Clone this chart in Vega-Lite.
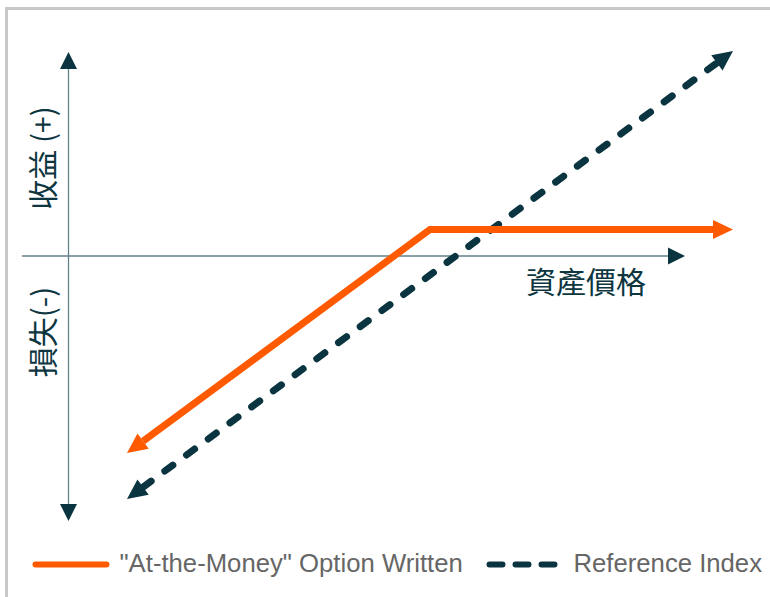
{
  "$schema": "https://vega.github.io/schema/vega-lite/v6.json",
  "width": 766.5,
  "height": 591.5,
  "autosize": {"type": "none"},
  "padding": {"left": 6.5, "top": 8.5, "right": -3, "bottom": -3},
  "background": "white",
  "config": {
    "view": {"stroke": "#c8c8c8", "strokeWidth": 3},
    "axis": {"disable": true}
  },
  "data": {
    "values": [
      {"series": "\"At-the-Money\" Option Written", "pt": 1, "price": 74.6, "payoff": -185.1},
      {"series": "\"At-the-Money\" Option Written", "pt": 2, "price": 361.5, "payoff": 26.5},
      {"series": "\"At-the-Money\" Option Written", "pt": 3, "price": 644.5, "payoff": 26.5},
      {"series": "Reference Index", "pt": 1, "price": 74.6, "payoff": -231.1},
      {"series": "Reference Index", "pt": 2, "price": 648.4, "payoff": 193.1}
    ]
  },
  "layer": [
    {
      "data": {"values": [{}]},
      "mark": {"type": "rule", "color": "#62818a", "strokeWidth": 1.3},
      "encoding": {
        "x": {"datum": 0, "type": "quantitative", "scale": {"domain": [-62, 704.5], "nice": false, "zero": false}, "axis": null},
        "y": {"datum": 187, "type": "quantitative", "scale": {"domain": [-344, 247.5], "nice": false, "zero": false}, "axis": null},
        "y2": {"datum": -248}
      }
    },
    {
      "data": {"values": [{}]},
      "mark": {"type": "rule", "color": "#62818a", "strokeWidth": 1.3},
      "encoding": {
        "x": {"datum": -46.5, "type": "quantitative", "scale": {"domain": [-62, 704.5], "nice": false, "zero": false}, "axis": null},
        "x2": {"datum": 599.5},
        "y": {"datum": 0, "type": "quantitative", "scale": {"domain": [-344, 247.5], "nice": false, "zero": false}, "axis": null}
      }
    },
    {
      "data": {"values": [{}]},
      "mark": {"type": "point", "filled": true, "opacity": 1, "color": "#0a3540", "shape": "M0,-2L1,0L-1,0Z", "size": 289, "angle": 0},
      "encoding": {
        "x": {"datum": 0, "type": "quantitative", "scale": {"domain": [-62, 704.5], "nice": false, "zero": false}, "axis": null},
        "y": {"datum": 187, "type": "quantitative", "scale": {"domain": [-344, 247.5], "nice": false, "zero": false}, "axis": null}
      }
    },
    {
      "data": {"values": [{}]},
      "mark": {"type": "point", "filled": true, "opacity": 1, "color": "#0a3540", "shape": "M0,-2L1,0L-1,0Z", "size": 289, "angle": 180},
      "encoding": {
        "x": {"datum": 0, "type": "quantitative", "scale": {"domain": [-62, 704.5], "nice": false, "zero": false}, "axis": null},
        "y": {"datum": -248, "type": "quantitative", "scale": {"domain": [-344, 247.5], "nice": false, "zero": false}, "axis": null}
      }
    },
    {
      "data": {"values": [{}]},
      "mark": {"type": "point", "filled": true, "opacity": 1, "color": "#0a3540", "shape": "M0,-2L1,0L-1,0Z", "size": 289, "angle": 90},
      "encoding": {
        "x": {"datum": 599.5, "type": "quantitative", "scale": {"domain": [-62, 704.5], "nice": false, "zero": false}, "axis": null},
        "y": {"datum": 0, "type": "quantitative", "scale": {"domain": [-344, 247.5], "nice": false, "zero": false}, "axis": null}
      }
    },
    {
      "data": {"values": [{}]},
      "mark": {"type": "text", "text": "收益 (+)", "font": "Noto Sans CJK TC", "fontSize": 30, "color": "#0d3640", "angle": 270, "align": "center", "baseline": "middle"},
      "encoding": {
        "x": {"datum": -23.5, "type": "quantitative", "scale": {"domain": [-62, 704.5], "nice": false, "zero": false}, "axis": null},
        "y": {"datum": 98, "type": "quantitative", "scale": {"domain": [-344, 247.5], "nice": false, "zero": false}, "axis": null}
      }
    },
    {
      "data": {"values": [{}]},
      "mark": {"type": "text", "text": "損失(-)", "font": "Noto Sans CJK TC", "fontSize": 30, "color": "#0d3640", "angle": 270, "align": "center", "baseline": "middle"},
      "encoding": {
        "x": {"datum": -23.5, "type": "quantitative", "scale": {"domain": [-62, 704.5], "nice": false, "zero": false}, "axis": null},
        "y": {"datum": -76, "type": "quantitative", "scale": {"domain": [-344, 247.5], "nice": false, "zero": false}, "axis": null}
      }
    },
    {
      "data": {"values": [{}]},
      "mark": {"type": "text", "text": "資產價格", "font": "Noto Sans CJK TC", "fontSize": 30, "color": "#0d3640", "align": "center", "baseline": "middle"},
      "encoding": {
        "x": {"datum": 517.5, "type": "quantitative", "scale": {"domain": [-62, 704.5], "nice": false, "zero": false}, "axis": null},
        "y": {"datum": -28, "type": "quantitative", "scale": {"domain": [-344, 247.5], "nice": false, "zero": false}, "axis": null}
      }
    },
    {
      "transform": [{"filter": "datum.series === 'Reference Index'"}],
      "mark": {"type": "line", "strokeWidth": 7, "strokeDash": [10, 17], "strokeCap": "round"},
      "encoding": {
        "x": {"field": "price", "type": "quantitative", "scale": {"domain": [-62, 704.5], "nice": false, "zero": false}, "axis": null},
        "y": {"field": "payoff", "type": "quantitative", "scale": {"domain": [-344, 247.5], "nice": false, "zero": false}, "axis": null},
        "order": {"field": "pt"},
        "color": {
          "field": "series",
          "type": "nominal",
          "scale": {"domain": ["\"At-the-Money\" Option Written", "Reference Index"], "range": ["#ff5a00", "#0a3540"]},
          "legend": {
            "orient": "none",
            "legendX": 26,
            "legendY": 517,
            "direction": "horizontal",
            "title": null,
            "symbolType": "stroke",
            "symbolSize": 5041,
            "symbolStrokeWidth": 6,
            "labelFont": "Liberation Sans",
            "labelFontSize": 25.7,
            "labelColor": "#666666",
            "labelLimit": 600,
            "labelOffset": 10,
            "columnPadding": 14,
            "padding": 0,
            "encoding": {
              "symbols": {
                "strokeCap": {"value": "round"},
                "strokeWidth": {"value": 6},
                "strokeDash": {"value": {"expr": "datum.value === 'Reference Index' ? [13, 13] : [1, 0]"}}
              }
            }
          }
        }
      }
    },
    {
      "transform": [{"filter": "datum.series !== 'Reference Index'"}],
      "mark": {"type": "line", "strokeWidth": 7, "strokeCap": "butt", "strokeJoin": "miter"},
      "encoding": {
        "x": {"field": "price", "type": "quantitative", "scale": {"domain": [-62, 704.5], "nice": false, "zero": false}, "axis": null},
        "y": {"field": "payoff", "type": "quantitative", "scale": {"domain": [-344, 247.5], "nice": false, "zero": false}, "axis": null},
        "order": {"field": "pt"},
        "color": {
          "field": "series",
          "type": "nominal",
          "scale": {"domain": ["\"At-the-Money\" Option Written", "Reference Index"], "range": ["#ff5a00", "#0a3540"]}
        }
      }
    },
    {
      "transform": [{"filter": "datum.series === 'Reference Index' && datum.pt === 1"}],
      "mark": {"type": "point", "filled": true, "opacity": 1, "color": "#0a3540", "shape": "M0,-2L0.95,0L-0.95,0Z", "size": 400, "angle": 233.6},
      "encoding": {
        "x": {"field": "price", "type": "quantitative", "scale": {"domain": [-62, 704.5], "nice": false, "zero": false}, "axis": null},
        "y": {"field": "payoff", "type": "quantitative", "scale": {"domain": [-344, 247.5], "nice": false, "zero": false}, "axis": null}
      }
    },
    {
      "transform": [{"filter": "datum.series === 'Reference Index' && datum.pt === 2"}],
      "mark": {"type": "point", "filled": true, "opacity": 1, "color": "#0a3540", "shape": "M0,-2L0.95,0L-0.95,0Z", "size": 400, "angle": 53.6},
      "encoding": {
        "x": {"field": "price", "type": "quantitative", "scale": {"domain": [-62, 704.5], "nice": false, "zero": false}, "axis": null},
        "y": {"field": "payoff", "type": "quantitative", "scale": {"domain": [-344, 247.5], "nice": false, "zero": false}, "axis": null}
      }
    },
    {
      "transform": [{"filter": "datum.series !== 'Reference Index' && datum.pt === 1"}],
      "mark": {"type": "point", "filled": true, "opacity": 1, "color": "#ff5a00", "shape": "M0,-2L0.95,0L-0.95,0Z", "size": 400, "angle": 233.6},
      "encoding": {
        "x": {"field": "price", "type": "quantitative", "scale": {"domain": [-62, 704.5], "nice": false, "zero": false}, "axis": null},
        "y": {"field": "payoff", "type": "quantitative", "scale": {"domain": [-344, 247.5], "nice": false, "zero": false}, "axis": null}
      }
    },
    {
      "transform": [{"filter": "datum.series !== 'Reference Index' && datum.pt === 3"}],
      "mark": {"type": "point", "filled": true, "opacity": 1, "color": "#ff5a00", "shape": "M0,-2L0.95,0L-0.95,0Z", "size": 400, "angle": 90},
      "encoding": {
        "x": {"field": "price", "type": "quantitative", "scale": {"domain": [-62, 704.5], "nice": false, "zero": false}, "axis": null},
        "y": {"field": "payoff", "type": "quantitative", "scale": {"domain": [-344, 247.5], "nice": false, "zero": false}, "axis": null}
      }
    }
  ]
}
